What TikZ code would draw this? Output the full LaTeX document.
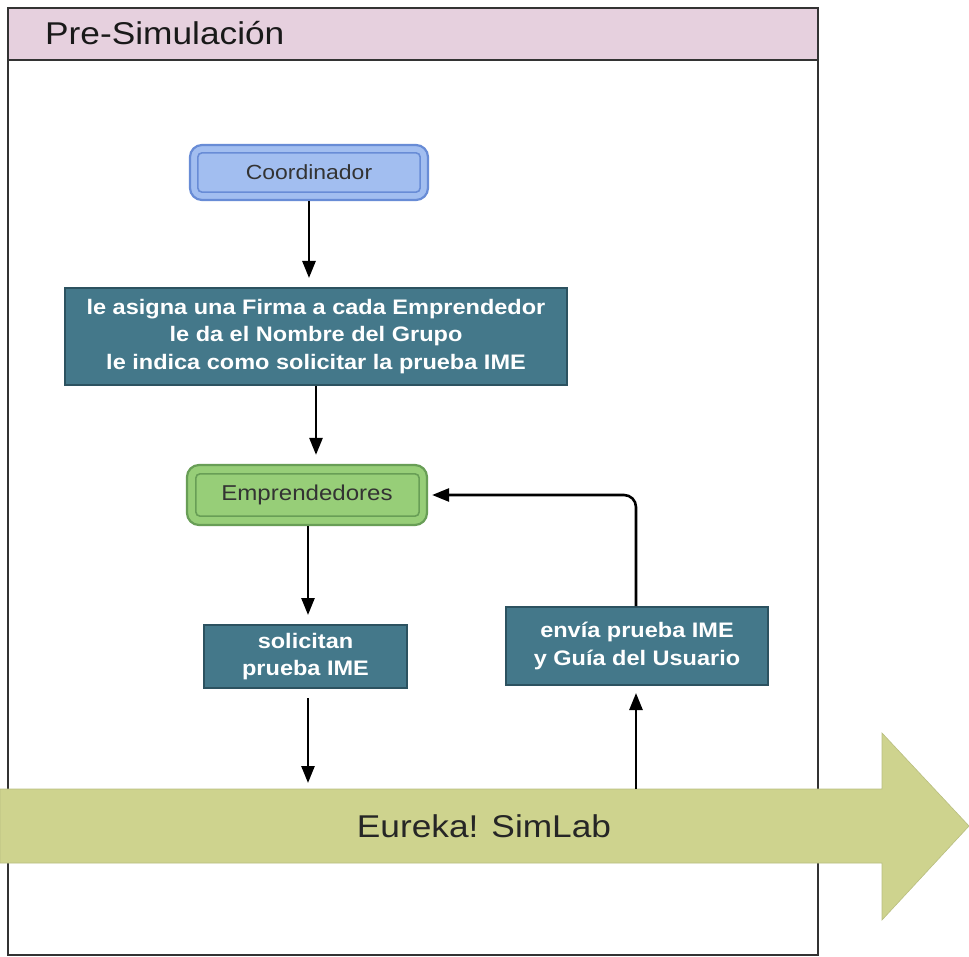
\documentclass[tikz,border=0pt]{standalone}
\usepackage{fontspec}
\setmainfont{Liberation Sans}[FakeStretch=1.12]
\usetikzlibrary{arrows.meta}
\definecolor{hdrpink}{RGB}{230,208,222}
\definecolor{bluefill}{RGB}{162,190,240}
\definecolor{blueline}{RGB}{104,140,214}
\definecolor{greenfill}{RGB}{151,206,120}
\definecolor{greenline}{RGB}{104,158,86}
\definecolor{tealfill}{RGB}{68,120,138}
\definecolor{tealline}{RGB}{44,82,96}
\definecolor{olive}{RGB}{206,211,142}
\tikzset{
  rolebox/.style={draw, line width=2.2pt, rounded corners=12pt, inner sep=0pt},
  actbox/.style={draw=tealline, fill=tealfill, line width=2pt, text=white, align=center, inner sep=0pt,
    font=\fontsize{21}{27.5}\selectfont\bfseries},
  conn/.style={line width=2.6pt, -{Triangle[length=17pt,width=13pt]}},
}
\begin{document}
\begin{tikzpicture}[x=1pt,y=-1pt]
\useasboundingbox (0,0) rectangle (969,957);
\fill[white] (0,0) rectangle (969,957);
% frame
\fill[hdrpink] (8,8) rectangle (818,60);
\draw[line width=2.4pt, black!80] (8,8) rectangle (818,955);
\draw[line width=2.4pt, black!80] (8,60) -- (818,60);
\node[anchor=west, font=\fontsize{31.5}{34}\selectfont, text=black!90, inner sep=0pt] (title) at (45,33) {Pre-Simulación};
% Coordinador
\node[rolebox, draw=blueline, fill=bluefill, minimum width=238pt, minimum height=55pt] (coord) at (309,172.5) {};
\draw[blueline, line width=1.6pt, rounded corners=4pt] ([shift={(9,9)}]coord.north west) rectangle ([shift={(-9,-9)}]coord.south east);
\node[font=\fontsize{20.5}{22}\selectfont, text=black!80] at (coord.center) {Coordinador};
% teal box
\node[actbox, minimum width=502pt, minimum height=97pt] (asig) at (316,336.5)
  {le asigna una Firma a cada Emprendedor\\le da el Nombre del Grupo\\le indica como solicitar la prueba IME};
% Emprendedores
\node[rolebox, draw=greenline, fill=greenfill, minimum width=240pt, minimum height=60pt] (emp) at (307,495) {};
\draw[greenline, line width=1.6pt, rounded corners=4pt] ([shift={(10,10)}]emp.north west) rectangle ([shift={(-9,-10)}]emp.south east);
\node[font=\fontsize{21.5}{23}\selectfont, text=black!80] at (emp.center) {Emprendedores};
% solicitan
\node[actbox, minimum width=203pt, minimum height=63pt] (sol) at (305.5,656.5) {solicitan\\prueba IME};
% envia
\node[actbox, minimum width=262pt, minimum height=78pt] (env) at (637,646) {envía prueba IME\\y Guía del Usuario};
% big arrow
\draw[draw=olive!90!black, fill=olive, line width=0.6pt] (0,789) -- (882,789) -- (882,733) -- (969,826) -- (882,920) -- (882,863) -- (0,863) -- cycle;
\node[font=\fontsize{31.5}{34}\selectfont, text=black!85] (eureka) at (484,826) {Eureka! SimLab};
\coordinate (barA) at (308,789);
\coordinate (barB) at (636,789);
% connectors
\draw[conn, shorten >=9pt] (coord.south) -- (coord.south |- asig.north);
\draw[conn, shorten >=9pt] (asig.south) -- (asig.south |- emp.north);
\draw[conn, shorten >=9pt] (emp.south -| barA) -- (barA |- sol.north);
\draw[conn, shorten <=9pt, shorten >=6pt] (sol.south -| barA) -- (barA);
\draw[conn, shorten >=7pt] (barB) -- (barB |- env.south);
\draw[conn, rounded corners=12pt, shorten >=4pt] (env.north -| barB) -- (barB |- emp.east) -- (emp.east);
\end{tikzpicture}
\end{document}
